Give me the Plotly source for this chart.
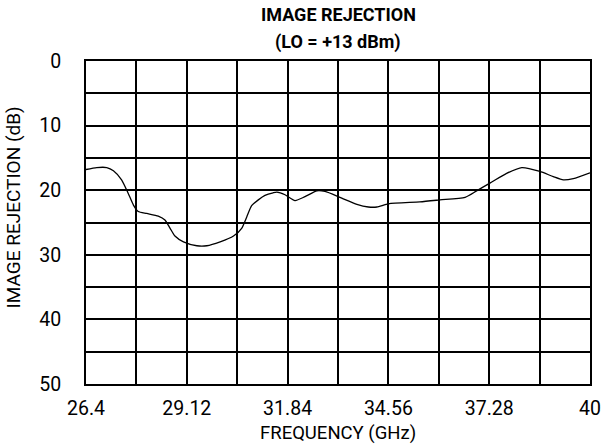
import plotly.graph_objects as go

# Curve (GHz, dB)
freq_ghz = [26.40, 26.69, 26.96, 27.14, 27.36, 27.54, 27.68, 27.81, 28.04, 28.35,
            28.53, 28.67, 28.80, 29.03, 29.39, 29.66, 30.02, 30.38, 30.60, 30.74,
            30.87, 31.05, 31.23, 31.45, 31.55, 31.77, 32.04, 32.31, 32.63, 32.85,
            33.25, 33.71, 34.02, 34.25, 34.56, 35.41, 35.95, 36.63, 36.94, 37.30,
            37.75, 38.16, 38.65, 39.01, 39.28, 39.55, 40.00]
rejection_db = [16.8, 16.5, 16.5, 17.0, 18.4, 20.5, 22.3, 23.3, 23.6, 24.0,
                24.6, 25.9, 27.1, 28.0, 28.6, 28.6, 28.0, 27.1, 25.9, 24.1,
                22.4, 21.5, 20.8, 20.4, 20.3, 20.7, 21.6, 21.0, 20.1, 20.2,
                21.1, 22.2, 22.6, 22.6, 22.1, 21.8, 21.5, 21.1, 20.1, 18.9,
                17.4, 16.5, 17.1, 17.9, 18.4, 18.2, 17.3]

x_ticks = [26.4, 29.12, 31.84, 34.56, 37.28, 40]
x_tick_text = ["26.4", "29.12", "31.84", "34.56", "37.28", "40"]
x_minor = [27.76, 30.48, 33.2, 35.92, 38.64]
y_ticks = [0, 10, 20, 30, 40, 50]
y_minor = [5, 15, 25, 35, 45]

FONT = "Roboto, Liberation Sans, sans-serif"

fig = go.Figure()
fig.add_trace(go.Scatter(x=freq_ghz, y=rejection_db, mode="lines",
                         line=dict(color="black", width=1.3, shape="spline", smoothing=0.6),
                         showlegend=False, hoverinfo="skip"))

fig.update_layout(
    width=615, height=448,
    margin=dict(l=86, r=25, t=61, b=64),
    paper_bgcolor="white", plot_bgcolor="white",
    font=dict(family=FONT, size=19.5, color="black"),
)

# titulo em duas linhas e titulos dos eixos como anotacoes
fig.add_annotation(text="<b>IMAGE REJECTION</b>", xref="paper", yref="paper",
                   x=0.5, y=1.144, xanchor="center", yanchor="middle",
                   showarrow=False, font=dict(size=18))
fig.add_annotation(text="<b>(LO = +13 dBm)</b>", xref="paper", yref="paper",
                   x=0.5, y=1.059, xanchor="center", yanchor="middle",
                   showarrow=False, font=dict(size=18))
fig.add_annotation(text="FREQUENCY (GHz)", xref="paper", yref="paper",
                   x=0.5, y=-0.152, xanchor="center", yanchor="middle",
                   showarrow=False, font=dict(size=18.5))
fig.add_annotation(text="IMAGE REJECTION (dB)", xref="paper", yref="paper",
                   x=-0.1429, y=0.5465, xanchor="center", yanchor="middle",
                   textangle=-90, showarrow=False, font=dict(size=19))

fig.update_xaxes(
    range=[26.4, 40], tickvals=x_ticks, ticktext=x_tick_text,
    showgrid=True, gridcolor="black", gridwidth=1.5,
    minor=dict(tickvals=x_minor, showgrid=True, gridcolor="black", gridwidth=1.5),
    showline=True, linecolor="black", linewidth=2, mirror=True,
    ticks="", ticklabelstandoff=6, zeroline=False,
)
fig.update_yaxes(
    range=[50, 0], tickvals=y_ticks,
    showgrid=True, gridcolor="black", gridwidth=1.5,
    minor=dict(tickvals=y_minor, showgrid=True, gridcolor="black", gridwidth=1.5),
    showline=True, linecolor="black", linewidth=2, mirror=True,
    ticks="", ticklabelstandoff=19, zeroline=False,
)

fig.write_html("out.html", config={"displayModeBar": False},
               post_script="document.body.style.margin='0';")
